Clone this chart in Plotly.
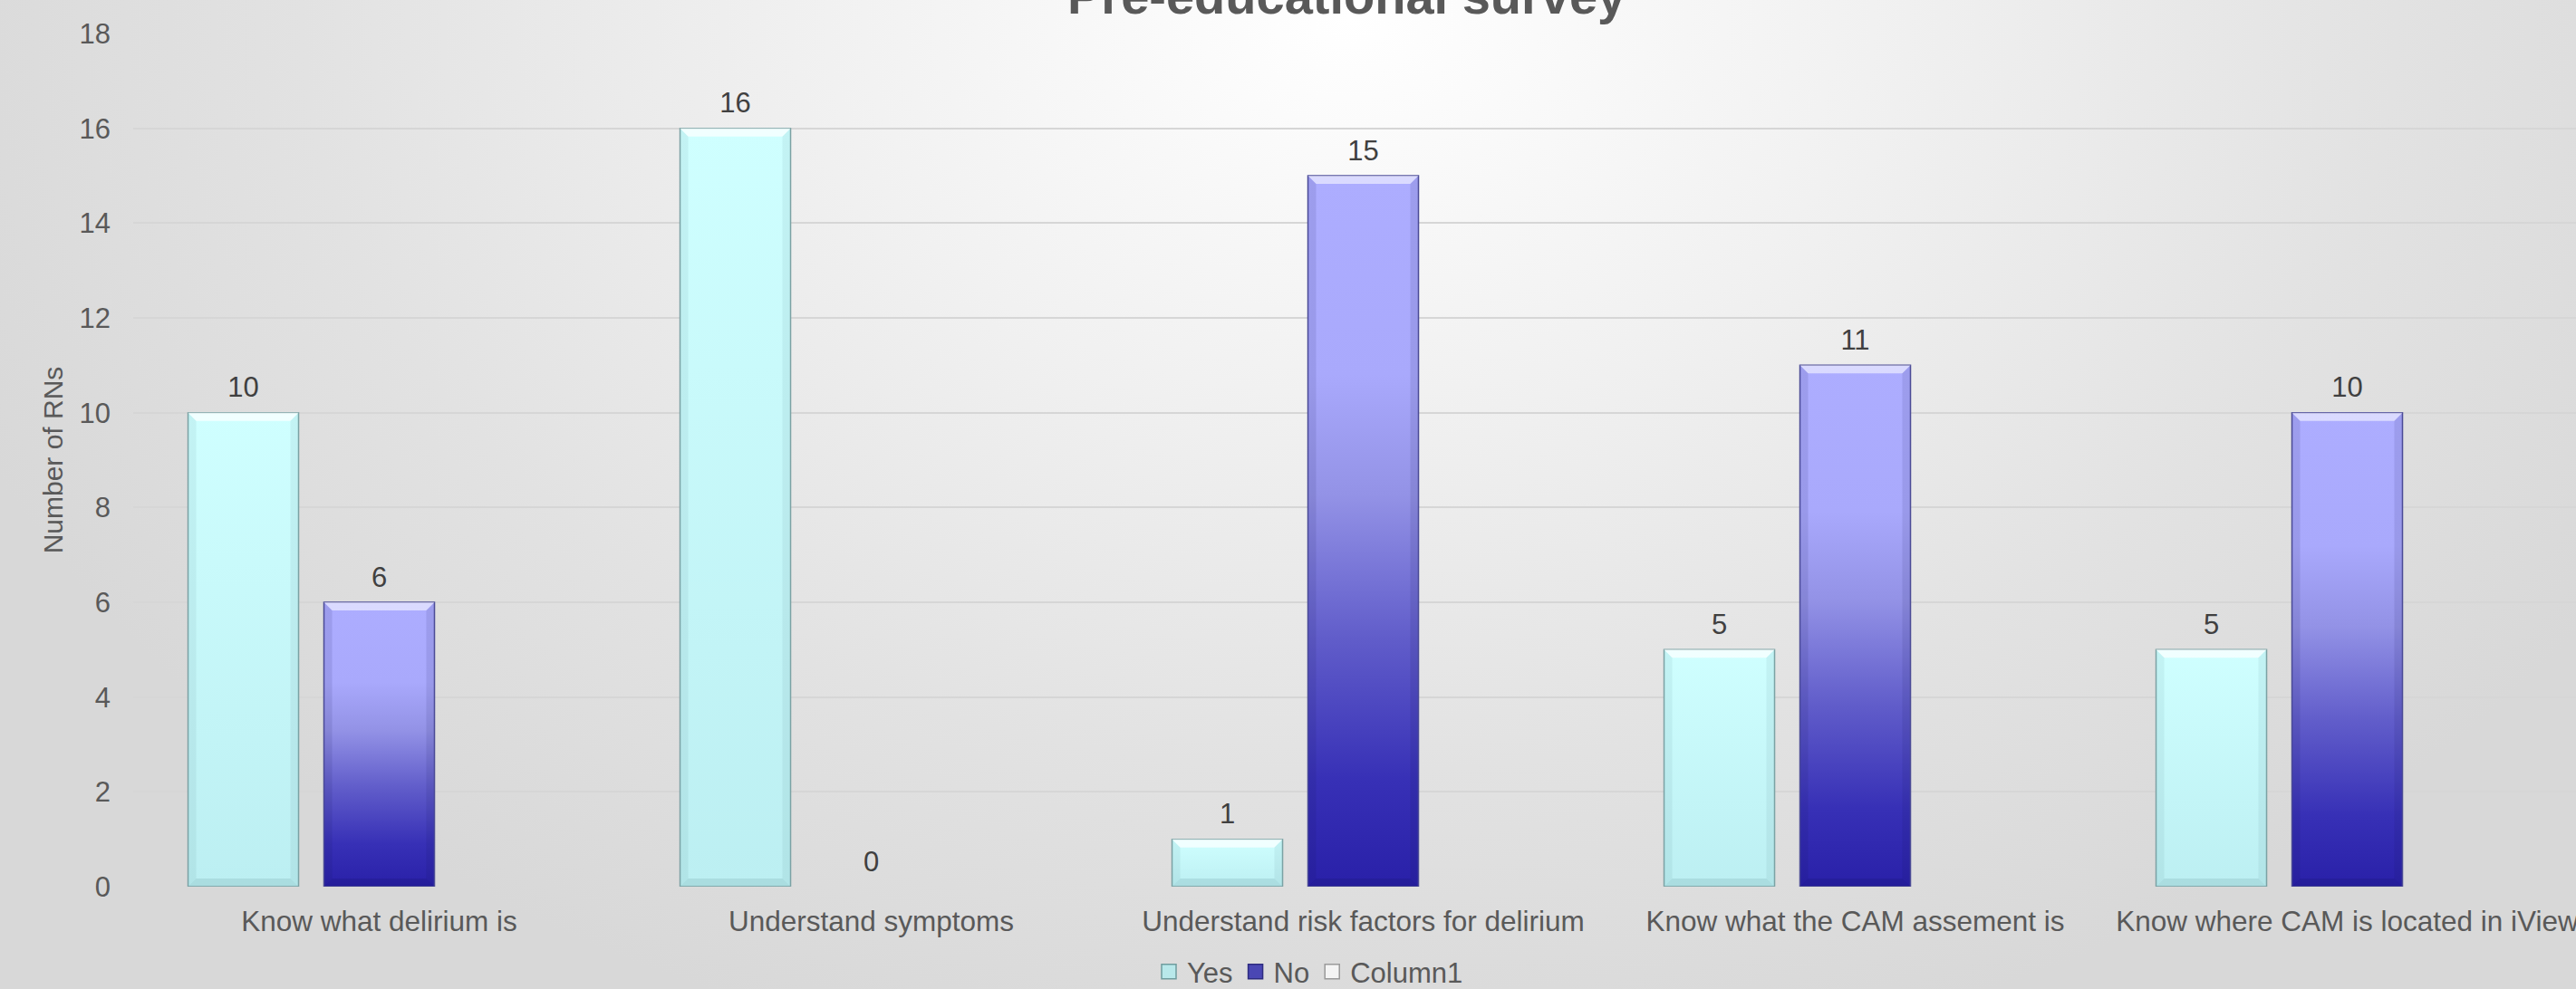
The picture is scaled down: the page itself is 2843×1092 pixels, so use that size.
import base64
import plotly.graph_objects as go

# ---- data -------------------------------------------------------------
categories = [
    "Know what delirium is",
    "Understand symptoms",
    "Understand risk factors for delirium",
    "Know what the CAM assement is",
    "Know where CAM is located in iView",
]
yes_counts = [10, 16, 1, 5, 5]
no_counts = [6, 0, 15, 11, 10]
column1_counts = [None, None, None, None, None]
y_tick_values = [0, 2, 4, 6, 8, 10, 12, 14, 16, 18]

chart_title = "Pre-educational survey"
y_axis_title = "Number of RNs"

# ---- geometry / style -------------------------------------------------
W, H = 2843, 1092
M_L, M_R, M_T, M_B = 147, 0, 37, 113
PLOT_W = W - M_L - M_R
PLOT_H = H - M_T - M_B
X_RANGE = [-0.5, 4.465]
Y_RANGE = [0, 18]

BAR_PITCH = 0.2762   # centre-to-centre distance of bars inside a group
BAR_WIDTH = 0.2247
X_UNIT_PX = PLOT_W / (X_RANGE[1] - X_RANGE[0])
Y_UNIT_PX = PLOT_H / (Y_RANGE[1] - Y_RANGE[0])
BEVEL_X = 9 / X_UNIT_PX
BEVEL_Y = 9 / Y_UNIT_PX

FONT = "Liberation Sans, Arial, sans-serif"
TEXT_GREY = "#595959"
LABEL_GREY = "#404040"

series = [
    dict(name="Yes", values=yes_counts, slot=-1,
         scale=[[0, "#BCEFF2"], [1, "#CFFFFF"]],
         edge="#7FA5A7", legend_fill="#B8E8EA", legend_edge="#6F9C9E",
         top="rgba(255,255,255,0.70)", side="rgba(40,90,95,0.07)",
         bottom="rgba(40,90,95,0.12)"),
    dict(name="No", values=no_counts, slot=0,
         scale=[[0, "#2920A8"], [0.15, "#3730B6"], [0.35, "#615DCA"],
                [0.55, "#9392E6"], [0.72, "#A9A9FC"], [1, "#ADADFF"]],
         edge="#4E4E9A", legend_fill="#4A47B4", legend_edge="#2E2C80",
         top="rgba(255,255,255,0.55)", side="rgba(20,20,80,0.10)",
         bottom="rgba(10,10,60,0.12)"),
    dict(name="Column1", values=column1_counts, slot=1,
         scale=[[0, "#F2F2F2"], [1, "#FFFFFF"]],
         edge="#A6A6A6", legend_fill="#F4F4F4", legend_edge="#9A9A9A",
         top="rgba(255,255,255,0.6)", side="rgba(0,0,0,0.06)",
         bottom="rgba(0,0,0,0.08)"),
]

fig = go.Figure()


def polygon(xs, ys, fill, **kw):
    return go.Scatter(x=xs, y=ys, mode="lines", fill="toself",
                      fillcolor=fill, line=dict(width=0),
                      hoverinfo="skip", showlegend=False, **kw)


for s in series:
    centres = []
    shown = []
    for i, v in enumerate(s["values"]):
        if v is None:
            continue
        c = i + s["slot"] * BAR_PITCH
        centres.append(c)
        shown.append(v)
        if v <= 0:
            continue
        x0, x1 = c - BAR_WIDTH / 2, c + BAR_WIDTH / 2
        # bar body with a vertical gradient
        fig.add_trace(go.Scatter(
            x=[x0, x1, x1, x0, x0], y=[0, 0, v, v, 0],
            mode="lines", fill="toself",
            fillgradient=dict(type="vertical", colorscale=s["scale"]),
            line=dict(color=s["edge"], width=1.5),
            hoverinfo="skip", showlegend=False))
        bx, by = BEVEL_X, min(BEVEL_Y, v / 3)
        # bevel: lit top edge, shaded sides and bottom
        fig.add_trace(polygon([x0, x1, x1 - bx, x0 + bx, x0],
                              [v, v, v - by, v - by, v], s["top"]))
        fig.add_trace(polygon([x0, x0 + bx, x0 + bx, x0, x0],
                              [0, by, v - by, v, 0], s["side"]))
        fig.add_trace(polygon([x1, x1 - bx, x1 - bx, x1, x1],
                              [0, by, v - by, v, 0], s["side"]))
        fig.add_trace(polygon([x0, x1, x1 - bx, x0 + bx, x0],
                              [0, 0, by, by, 0], s["bottom"]))
    if centres:
        fig.add_trace(go.Scatter(
            x=centres, y=shown, mode="markers+text",
            marker=dict(size=14, opacity=0),
            text=[str(v) for v in shown], textposition="top center",
            textfont=dict(family=FONT, size=31, color=LABEL_GREY),
            hoverinfo="skip", showlegend=False, cliponaxis=False))

# legend entries
for s in series:
    fig.add_trace(go.Scatter(
        x=[None], y=[None], mode="markers", name=s["name"],
        marker=dict(symbol="square", size=16, color=s["legend_fill"],
                    line=dict(color=s["legend_edge"], width=1.5))))

# soft radial background, brightest at the top centre
bg_svg = (
    f"<svg xmlns='http://www.w3.org/2000/svg' width='{W}' height='{H}' "
    f"viewBox='0 0 {W} {H}' preserveAspectRatio='none'>"
    "<defs><radialGradient id='g' gradientUnits='userSpaceOnUse' "
    "cx='1490' cy='20' r='1650' "
    "gradientTransform='translate(1490 20) scale(1 0.72) translate(-1490 -20)'>"
    "<stop offset='0' stop-color='#FFFFFF'/>"
    "<stop offset='0.35' stop-color='#F1F1F1'/>"
    "<stop offset='0.7' stop-color='#E2E2E2'/>"
    "<stop offset='1' stop-color='#D8D8D8'/>"
    "</radialGradient></defs>"
    f"<rect width='{W}' height='{H}' fill='url(#g)'/></svg>"
)
bg_src = "data:image/svg+xml;base64," + base64.b64encode(bg_svg.encode()).decode()

fig.add_layout_image(dict(
    source=bg_src, xref="paper", yref="paper",
    x=-M_L / PLOT_W, y=1 + M_T / PLOT_H,
    sizex=W / PLOT_W, sizey=H / PLOT_H,
    xanchor="left", yanchor="top", sizing="stretch", layer="below"))

fig.add_annotation(
    text=f"<b>{chart_title}</b>", xref="paper", yref="paper",
    x=(1486 - M_L) / PLOT_W, y=1.0085, xanchor="center", yanchor="bottom",
    showarrow=False, font=dict(family=FONT, size=56, color=TEXT_GREY))

fig.update_layout(
    width=W, height=H, autosize=False,
    margin=dict(l=M_L, r=M_R, t=M_T, b=M_B, pad=0, autoexpand=False),
    paper_bgcolor="#E2E2E2", plot_bgcolor="rgba(0,0,0,0)",
    font=dict(family=FONT, color=TEXT_GREY),
    showlegend=True,
    legend=dict(orientation="h", x=(1270 - M_L) / PLOT_W,
                yref="container", y=1 - 1073 / H,
                xanchor="left", yanchor="middle",
                font=dict(family=FONT, size=31, color=TEXT_GREY),
                bgcolor="rgba(0,0,0,0)", itemsizing="trace",
                itemclick=False),
    xaxis=dict(range=X_RANGE, tickmode="array",
               tickvals=list(range(len(categories))), ticktext=categories,
               showgrid=False, zeroline=False, showline=False, ticks="",
               tickfont=dict(family=FONT, size=31.5, color=TEXT_GREY),
               ticklabelstandoff=16, ticklabeloverflow="allow",
               automargin=False, fixedrange=True),
    yaxis=dict(range=Y_RANGE, tickmode="array", tickvals=y_tick_values,
               showgrid=True, gridcolor="#D6D6D6", gridwidth=1.5,
               zeroline=False, showline=False, ticks="",
               tickfont=dict(family=FONT, size=31, color=TEXT_GREY),
               ticklabelstandoff=24,
               title=dict(text=y_axis_title, standoff=9,
                          font=dict(family=FONT, size=30, color=TEXT_GREY)),
               automargin=False, fixedrange=True),
)

fig.write_html("out.html")
